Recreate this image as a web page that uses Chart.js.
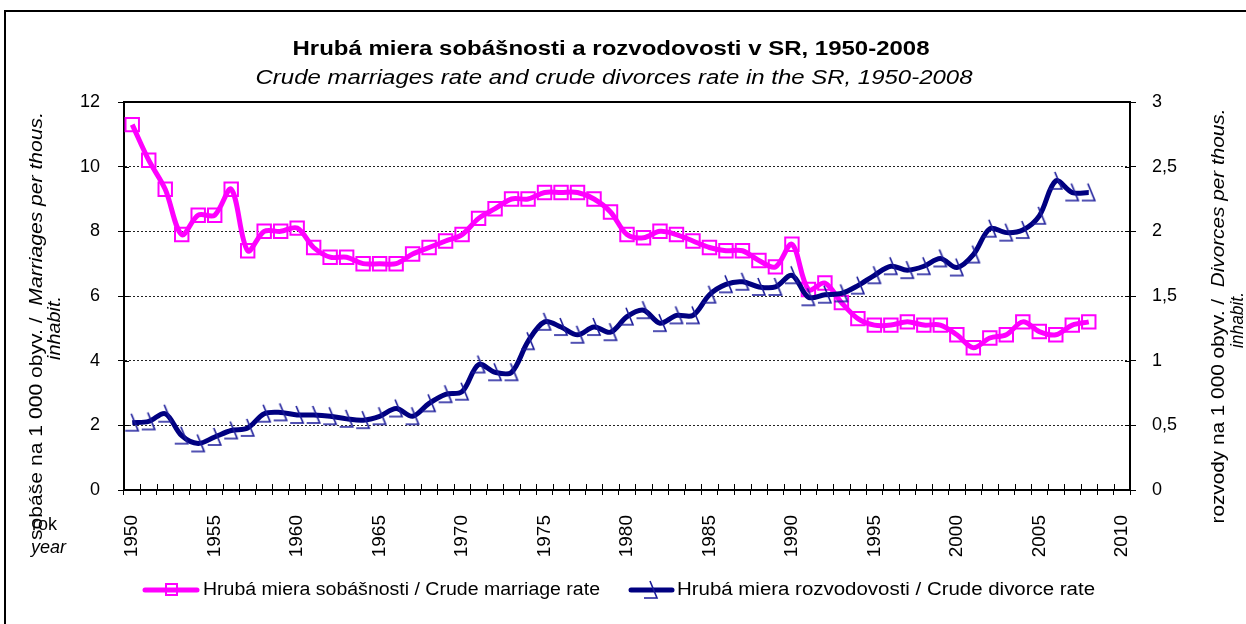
<!DOCTYPE html>
<html>
<head>
<meta charset="utf-8">
<script src="https://cdn.jsdelivr.net/npm/chart.js@4"></script>
<style>
  html, body { margin: 0; padding: 0; background: #fff; }
  #wrap { width: 1246px; height: 624px; }
</style>
</head>
<body>
<div id="wrap"><canvas id="chart" width="1246" height="624"></canvas></div>
<script>
// roky (kategorie osi X)
const YEARS = [
  1950, 1951, 1952, 1953, 1954, 1955, 1956, 1957, 1958, 1959,
  1960, 1961, 1962, 1963, 1964, 1965, 1966, 1967, 1968, 1969,
  1970, 1971, 1972, 1973, 1974, 1975, 1976, 1977, 1978, 1979,
  1980, 1981, 1982, 1983, 1984, 1985, 1986, 1987, 1988, 1989,
  1990, 1991, 1992, 1993, 1994, 1995, 1996, 1997, 1998, 1999,
  2000, 2001, 2002, 2003, 2004, 2005, 2006, 2007, 2008, 2009, 2010,
];

// sobase na 1 000 obyv.
const MARRIAGE_RATE = [
  11.3, 10.2, 9.3, 7.9, 8.5, 8.5, 9.3, 7.4, 8.0, 8.0,
  8.1, 7.5, 7.2, 7.2, 7.0, 7.0, 7.0, 7.3, 7.5, 7.7,
  7.9, 8.4, 8.7, 9.0, 9.0, 9.2, 9.2, 9.2, 9.0, 8.6,
  7.9, 7.8, 8.0, 7.9, 7.7, 7.5, 7.4, 7.4, 7.1, 6.9,
  7.6, 6.2, 6.4, 5.8, 5.3, 5.1, 5.1, 5.2, 5.1, 5.1,
  4.8, 4.4, 4.7, 4.8, 5.2, 4.9, 4.8, 5.1, 5.2,
];

// rozvody na 1 000 obyv.
const DIVORCE_RATE = [
  0.52, 0.53, 0.59, 0.42, 0.36, 0.41, 0.46, 0.48, 0.59, 0.60,
  0.58, 0.58, 0.57, 0.55, 0.54, 0.57, 0.63, 0.57, 0.67, 0.74,
  0.76, 0.97, 0.91, 0.91, 1.15, 1.30, 1.26, 1.20, 1.26, 1.22,
  1.34, 1.39, 1.29, 1.35, 1.35, 1.51, 1.59, 1.61, 1.57, 1.57,
  1.66, 1.49, 1.51, 1.52, 1.58, 1.66, 1.73, 1.70, 1.73, 1.79,
  1.72, 1.82, 2.02, 1.99, 2.01, 2.12, 2.39, 2.30, 2.30,
];

const LEFT_TICKS = [0, 2, 4, 6, 8, 10, 12];
const RIGHT_TICKS = [0, 0.5, 1, 1.5, 2, 2.5, 3];

const FONT = 'Arial, "Liberation Sans", sans-serif';
const MAGENTA = '#ff00ff';
const NAVY = '#000080';

// "rozbity" trojuholnik ako v Exceli
function makeDivorceMarker() {
  const c = document.createElement('canvas');
  c.width = 22;
  c.height = 22;
  const g = c.getContext('2d');
  g.strokeStyle = '#1a1a9a';
  g.lineWidth = 1.6;
  g.beginPath();
  g.moveTo(10, 2);
  g.lineTo(17, 19);
  g.lineTo(4, 19);
  g.stroke();
  return c;
}
const divorceMarker = makeDivorceMarker();

// text zlozeny z casti (normal / italic), roztiahnuty na zadanu dlzku
function drawText(ctx, cx, cy, parts, len, angle) {
  ctx.save();
  ctx.translate(cx, cy);
  ctx.rotate(angle || 0);
  ctx.textBaseline = 'middle';
  ctx.textAlign = 'left';
  let total = 0;
  parts.forEach(function (p) { ctx.font = p.font; total += ctx.measureText(p.text).width; });
  const sx = len ? len / total : 1;
  ctx.scale(sx, 1);
  let x = -total / 2;
  parts.forEach(function (p) {
    ctx.font = p.font;
    ctx.fillStyle = '#000';
    ctx.fillText(p.text, x, 0);
    x += ctx.measureText(p.text).width;
  });
  ctx.restore();
}

const decorPlugin = {
  id: 'decor',
  beforeDraw(chart) {
    const ctx = chart.ctx;
    ctx.save();
    ctx.fillStyle = '#fff';
    ctx.fillRect(0, 0, chart.width, chart.height);
    ctx.restore();
  },
  afterDraw(chart) {
    const ctx = chart.ctx;
    const a = chart.chartArea;
    const y = chart.scales.y;
    const y1 = chart.scales.y1;
    const UP = -Math.PI / 2;
    ctx.save();

    // ramik okolo celeho grafu
    ctx.strokeStyle = '#000';
    ctx.lineWidth = 2;
    ctx.beginPath();
    ctx.moveTo(5, 630);
    ctx.lineTo(5, 11);
    ctx.lineTo(1250, 11);
    ctx.stroke();

    // horny okraj plochy grafu
    ctx.beginPath();
    ctx.moveTo(a.left, a.top);
    ctx.lineTo(a.right, a.top);
    ctx.stroke();

    // vnutorne casti znaciek (kriziky)
    ctx.lineWidth = 1;
    ctx.beginPath();
    LEFT_TICKS.forEach(function (v) {
      const py = Math.round(y.getPixelForValue(v)) + 0.5;
      ctx.moveTo(a.left, py); ctx.lineTo(a.left + 5, py);
    });
    RIGHT_TICKS.forEach(function (v) {
      const py = Math.round(y1.getPixelForValue(v)) + 0.5;
      ctx.moveTo(a.right, py); ctx.lineTo(a.right - 5, py);
    });
    const step = (a.right - a.left) / YEARS.length;
    for (let i = 0; i <= YEARS.length; i++) {
      const px = Math.round(a.left + i * step) + 0.5;
      ctx.moveTo(px, a.bottom); ctx.lineTo(px, a.bottom - 6);
    }
    ctx.stroke();

    // nadpis
    drawText(ctx, 611, 49, [
      { text: 'Hrubá miera sobášnosti a rozvodovosti v SR, 1950-2008', font: 'bold 20px ' + FONT },
    ], 637);
    drawText(ctx, 614, 78, [
      { text: 'Crude marriages rate and crude divorces rate in the SR, 1950-2008', font: 'italic 20px ' + FONT },
    ], 717);

    // nazvy osi
    drawText(ctx, 37, 326, [
      { text: 'sobáše na 1 000 obyv. /  ', font: '19px ' + FONT },
      { text: 'Marriages per thous.', font: 'italic 19px ' + FONT },
    ], 428, UP);
    drawText(ctx, 55, 328, [
      { text: 'inhabit.', font: 'italic 19px ' + FONT },
    ], 64, UP);
    drawText(ctx, 1219, 316, [
      { text: 'rozvody na 1 000 obyv. /  ', font: '19px ' + FONT },
      { text: 'Divorces per thous.', font: 'italic 19px ' + FONT },
    ], 415, UP);
    drawText(ctx, 1238, 320, [
      { text: 'inhabit.', font: 'italic 19px ' + FONT },
    ], 56, UP);

    ctx.fillStyle = '#000';
    ctx.textAlign = 'left';
    ctx.textBaseline = 'alphabetic';
    ctx.font = '18px ' + FONT;
    ctx.fillText('rok', 32, 530);
    ctx.font = 'italic 18px ' + FONT;
    ctx.fillText('year', 31, 553);

    // legenda
    const ly = 590;
    ctx.lineCap = 'round';
    ctx.lineWidth = 5;
    ctx.strokeStyle = MAGENTA;
    ctx.beginPath(); ctx.moveTo(145, ly); ctx.lineTo(197, ly); ctx.stroke();
    ctx.lineWidth = 2;
    ctx.strokeRect(166, ly - 6, 11, 11);
    ctx.lineWidth = 5;
    ctx.strokeStyle = NAVY;
    ctx.beginPath(); ctx.moveTo(631, ly); ctx.lineTo(672, ly); ctx.stroke();
    ctx.drawImage(divorceMarker, 651 - 11, ly - 11);
    const t1 = 'Hrubá miera sobášnosti / Crude marriage rate';
    const t2 = 'Hrubá miera rozvodovosti / Crude divorce rate';
    ctx.font = '18px ' + FONT;
    const w1 = ctx.measureText(t1).width;
    const w2 = ctx.measureText(t2).width;
    drawText(ctx, 203 + 397 / 2, ly, [{ text: t1, font: '18px ' + FONT }], 397);
    drawText(ctx, 677 + 418 / 2, ly, [{ text: t2, font: '18px ' + FONT }], 418);

    ctx.restore();
  },
};

new Chart(document.getElementById('chart'), {
  type: 'line',
  data: {
    labels: YEARS,
    datasets: [
      {
        label: 'Hrubá miera sobášnosti / Crude marriage rate',
        data: MARRIAGE_RATE,
        yAxisID: 'y',
        order: 2,
        borderColor: MAGENTA,
        borderWidth: 5,
        tension: 0.33,
        pointStyle: 'rect',
        pointRadius: 9.5,
        pointBorderWidth: 2,
        pointBorderColor: MAGENTA,
        pointBackgroundColor: 'rgba(0,0,0,0)',
      },
      {
        label: 'Hrubá miera rozvodovosti / Crude divorce rate',
        data: DIVORCE_RATE,
        yAxisID: 'y1',
        order: 1,
        borderColor: NAVY,
        borderWidth: 5,
        tension: 0.33,
        pointStyle: divorceMarker,
        pointRadius: 8,
      },
    ],
  },
  options: {
    responsive: false,
    animation: false,
    devicePixelRatio: 1,
    layout: { padding: { top: 102, left: 0, right: 0, bottom: 0 } },
    plugins: {
      legend: { display: false },
      title: { display: false },
      tooltip: { enabled: false },
    },
    scales: {
      x: {
        type: 'category',
        offset: true,
        afterFit: function (s) { s.height = 134; },
        grid: {
          offset: true,
          drawOnChartArea: false,
          tickLength: 5,
          color: '#000',
          lineWidth: 1,
        },
        border: { color: '#000', width: 2 },
        ticks: {
          autoSkip: false,
          maxRotation: 90,
          minRotation: 90,
          padding: 20,
          color: '#000',
          font: { family: FONT, size: 19 },
          callback: function (v, i) { return YEARS[i] % 5 === 0 ? String(YEARS[i]) : ''; },
        },
      },
      y: {
        position: 'left',
        min: 0,
        max: 12,
        afterFit: function (s) { s.width = 124; },
        afterBuildTicks: function (s) { s.ticks = LEFT_TICKS.map(function (v) { return { value: v }; }); },
        grid: {
          color: '#222',
          lineWidth: 1,
          tickLength: 6,
          tickColor: '#000',
          tickBorderDash: [],
        },
        border: { color: '#000', width: 2, dash: [2, 2] },
        ticks: {
          padding: 18,
          color: '#000',
          font: { family: FONT, size: 18 },
        },
      },
      y1: {
        position: 'right',
        min: 0,
        max: 3,
        afterFit: function (s) { s.width = 116; },
        afterBuildTicks: function (s) { s.ticks = RIGHT_TICKS.map(function (v) { return { value: v }; }); },
        grid: {
          drawOnChartArea: false,
          tickLength: 6,
          color: '#000',
          tickBorderDash: [],
        },
        border: { color: '#000', width: 2 },
        ticks: {
          padding: 16,
          color: '#000',
          font: { family: FONT, size: 18 },
          callback: function (v) { return String(v).replace('.', ','); },
        },
      },
    },
  },
  plugins: [decorPlugin],
});
</script>
</body>
</html>
